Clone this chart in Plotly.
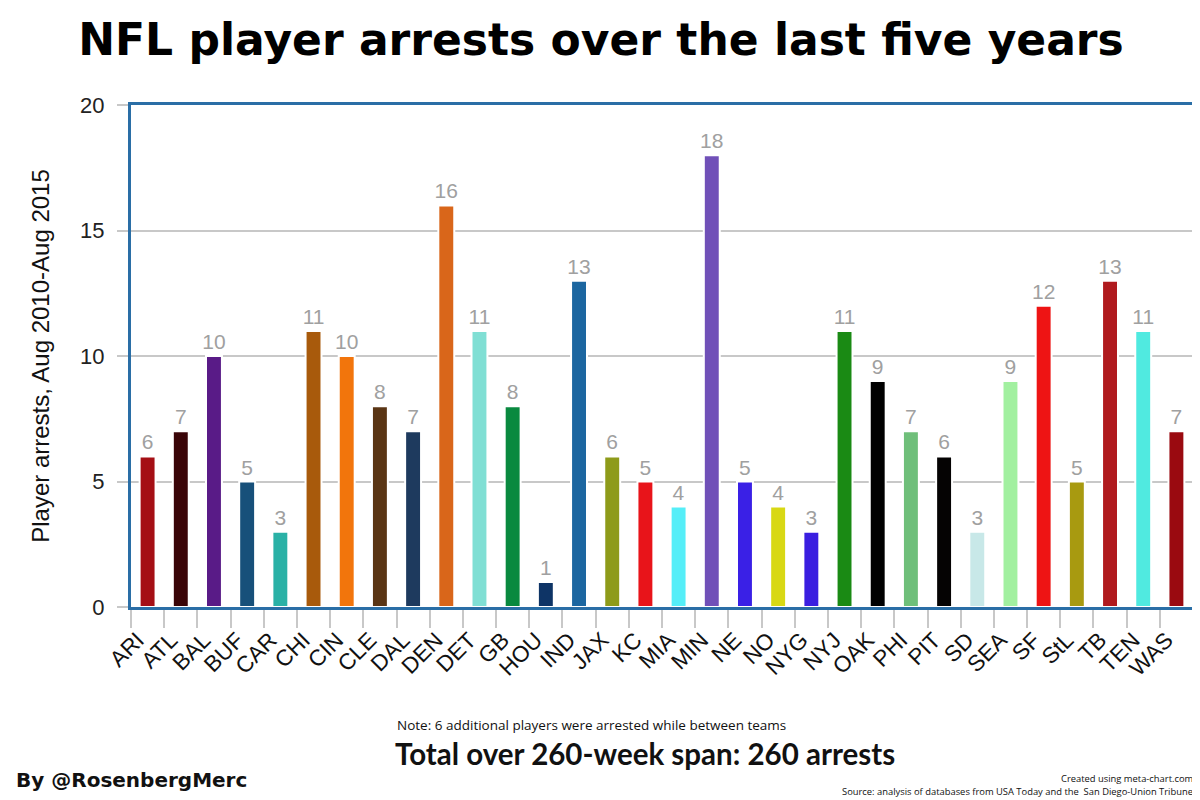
import plotly.graph_objects as go

teams = ["ARI","ATL","BAL","BUF","CAR","CHI","CIN","CLE","DAL","DEN","DET","GB","HOU","IND","JAX","KC",
         "MIA","MIN","NE","NO","NYG","NYJ","OAK","PHI","PIT","SD","SEA","SF","StL","TB","TEN","WAS"]
arrests = [6,7,10,5,3,11,10,8,7,16,11,8,1,13,6,5,
           4,18,5,4,3,11,9,7,6,3,9,12,5,13,11,7]
colors = ["#a50f15","#3a0508","#591b87","#17507a","#2ab1a6","#a85a0c","#f2750c","#5a3514","#1e3a5e","#d9661a","#80dfd4","#09893f","#0e3466","#1c66a0","#8e9b1a","#e8141a",
          "#55eef8","#7050b8","#3a20e6","#d8d814","#3a1ee0","#1a8a14","#000000","#6fbf7a","#050303","#c8e8e8","#a2f0a0","#ee1414","#a89a10","#b01a1e","#50eae0","#9a0a10"]

# page body has an 8px margin: figure occupies page pixels 8..1200 x 8..800
OFF = 8
PL, PR, PT, PB = 131, 1196, 105, 607  # plot area in page pixels

def px(x):
    return (x - PL) / (PR - PL)

def py(y):
    return (PB - y) / (PB - PT)

fig = go.Figure(go.Bar(
    x=teams, y=arrests,
    marker=dict(color=colors, line=dict(color="white", width=2)),
    text=[str(v) for v in arrests], textposition="outside", constraintext="none",
    textfont=dict(family="Liberation Sans, Arial", size=21, color="#a0a0a0"),
    cliponaxis=False,
))

fig.update_layout(
    width=1200 - OFF, height=800 - OFF,
    paper_bgcolor="white", plot_bgcolor="white",
    margin=dict(l=PL - OFF, r=1200 - PR, t=PT - OFF, b=800 - PB),
    bargap=0.52,
    showlegend=False,
    title=dict(text="<b>NFL player arrests over the last five years</b>",
               x=(601 - OFF) / (1200 - OFF), xref="container", xanchor="center",
               y=1 - (40 - OFF) / (800 - OFF), yref="container", yanchor="middle",
               font=dict(family="DejaVu Sans", size=44, color="#000000")),
)
fig.update_xaxes(
    showline=True, linecolor="#2a6ea6", linewidth=3, mirror=True,
    ticks="outside", tickson="boundaries", ticklen=18, tickcolor="#c8c8c8", tickwidth=2,
    ticklabelstandoff=8, ticklabelshift=-10,
    tickangle=-45, tickfont=dict(family="Liberation Sans, Arial", size=22.5, color="#111111"),
    showgrid=False,
)
fig.update_yaxes(
    range=[0, 20], tickvals=[0, 5, 10, 15, 20],
    showline=True, linecolor="#2a6ea6", linewidth=3, mirror=True,
    ticks="outside", ticklen=11, tickcolor="#c8c8c8", tickwidth=2,
    ticklabelstandoff=8,
    showgrid=True, gridcolor="#c8c8c8", gridwidth=2, zeroline=False,
    tickfont=dict(family="Liberation Sans, Arial", size=22, color="#222222"),
    title=dict(text="Player arrests, Aug 2010-Aug 2015", standoff=24,
               font=dict(family="Liberation Sans, Arial", size=24, color="#111111")),
)

def note(text, x, y, size, family, anchor="left", xshift=0):
    fig.add_annotation(text=text, xref="paper", yref="paper", x=px(x), y=py(y),
                       xanchor=anchor, yanchor="middle", showarrow=False, xshift=xshift,
                       font=dict(family=family, size=size, color="#111111"))

note("Note: 6 additional players were arrested while between teams", 396, 725, 13.5, "Open Sans")
note("<b>Total over 260-week span: 260 arrests</b>", 394, 753, 29.5, "Lato")
note("<b>By @RosenbergMerc</b>", 14, 780, 20, "DejaVu Sans")
note("Created using meta-chart.com", 1196, 778, 9.4, "Open Sans", anchor="right", xshift=2)
note("Source: analysis of databases from USA Today and the  San Diego-Union Tribune", 1196, 791, 9.4, "Open Sans", anchor="right", xshift=2)

fig.write_html("out.html")
